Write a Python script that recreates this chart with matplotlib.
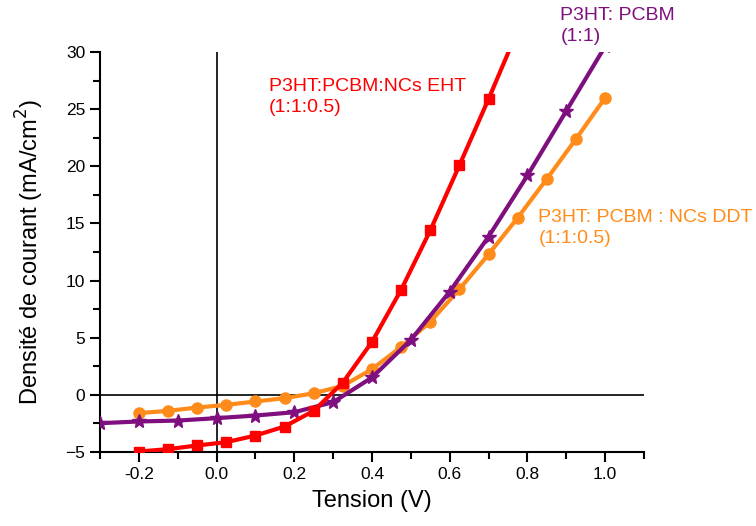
import numpy as np
import matplotlib
matplotlib.use('Agg')
import matplotlib.pyplot as plt
from matplotlib.ticker import MultipleLocator

plt.rcParams['font.family'] = ['Liberation Sans', 'DejaVu Sans']

# P3HT:PCBM:NCs EHT (1:1:0.5) - squares
v_eht = [-0.2, -0.125, -0.05, 0.025, 0.1, 0.175, 0.25, 0.325, 0.4, 0.475,
         0.55, 0.625, 0.7, 0.775]
j_eht = [-4.96, -4.75, -4.43, -4.14, -3.56, -2.77, -1.40, 1.08, 4.64, 9.2,
         14.4, 20.1, 25.9, 31.9]

# P3HT: PCBM (1:1) - stars
v_ref = [-0.3, -0.2, -0.1, 0.0, 0.1, 0.2, 0.3, 0.4, 0.5, 0.6, 0.7, 0.8, 0.9, 1.0]
j_ref = [-2.48, -2.33, -2.25, -2.04, -1.81, -1.52, -0.64, 1.52, 4.81, 9.04,
         13.85, 19.2, 24.85, 30.5]

# P3HT: PCBM : NCs DDT (1:1:0.5) - circles
v_ddt = [-0.2, -0.125, -0.05, 0.025, 0.1, 0.175, 0.25, 0.325, 0.4, 0.475,
         0.55, 0.625, 0.7, 0.775, 0.85, 0.925, 1.0]
j_ddt = [-1.6, -1.40, -1.11, -0.875, -0.58, -0.29, 0.14, 0.79, 2.25, 4.2,
         6.4, 9.25, 12.3, 15.5, 18.9, 22.4, 26.0]

xticks = [-0.2, 0.0, 0.2, 0.4, 0.6, 0.8, 1.0]
xtick_labels = ['-0.2', '0.0', '0.2', '0.4', '0.6', '0.8', '1.0']

red = '#ff0000'
purple = '#7f0f7f'
orange = '#ff8c1a'

fig = plt.figure(figsize=(7.56, 5.26), dpi=100)
ax = fig.add_axes([0.1323, 0.1407, 0.7196, 0.7604])

ax.axhline(0, color='black', lw=1.2, zorder=1)
ax.axvline(0, color='black', lw=1.2, zorder=1)

ax.plot(v_ddt, j_ddt, color=orange, lw=3, marker='o', ms=8, zorder=3)
ax.plot(v_ref, j_ref, color=purple, lw=3, marker='*', ms=10, zorder=4)
ax.plot(v_eht, j_eht, color=red, lw=3, marker='s', ms=7, zorder=5)

ax.set_xlim(-0.3, 1.1)
ax.set_ylim(-5, 30)
ax.set_xticks(xticks)
ax.set_xticklabels(xtick_labels)
ax.xaxis.set_minor_locator(MultipleLocator(0.1))
ax.yaxis.set_major_locator(MultipleLocator(5))
ax.yaxis.set_minor_locator(MultipleLocator(2.5))

for s in ['top', 'right']:
    ax.spines[s].set_visible(False)
for s in ['left', 'bottom']:
    ax.spines[s].set_linewidth(1.5)
ax.tick_params(which='major', direction='out', length=7, width=1.5, labelsize=12.5)
ax.tick_params(which='minor', direction='out', length=5, width=1.5)

ax.set_xlabel('Tension (V)', fontsize=17, labelpad=6)
ax.set_ylabel('Densité de courant (mA/cm$^2$)', fontsize=17, labelpad=14)

ax.text(0.134, 26.1, 'P3HT:PCBM:NCs EHT\n(1:1:0.5)', color=red, fontsize=14,
        va='center', ha='left', linespacing=1.3)
ax.text(0.885, 32.3, 'P3HT: PCBM\n(1:1)', color=purple, fontsize=14,
        va='center', ha='left', linespacing=1.3, clip_on=False)
ax.text(0.828, 14.6, 'P3HT: PCBM : NCs DDT\n(1:1:0.5)', color=orange, fontsize=14,
        va='center', ha='left', linespacing=1.3)

fig.savefig('out.png', dpi=100)
